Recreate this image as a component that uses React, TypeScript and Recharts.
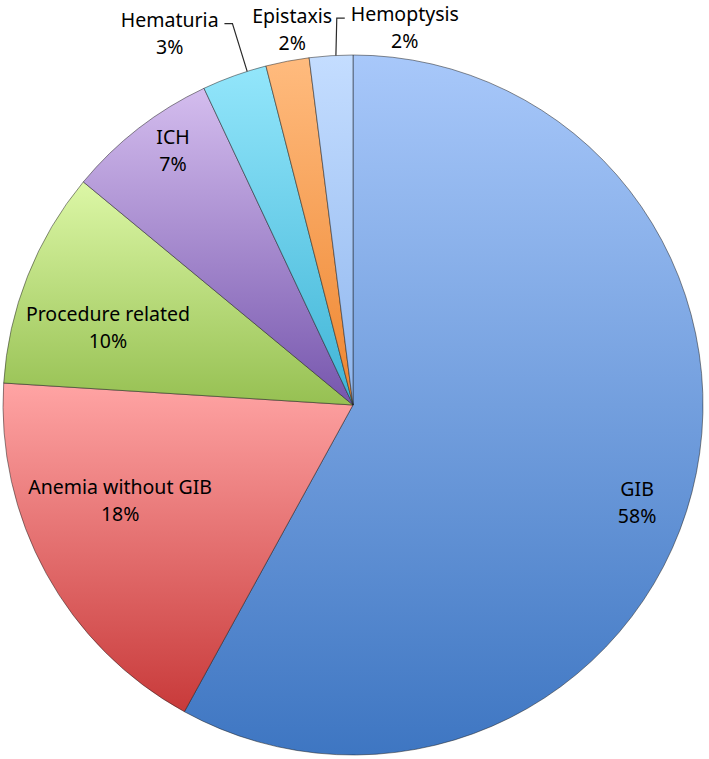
import React from 'react';
import { PieChart, Pie, Cell } from 'recharts';

const CATEGORIES = ['GIB', 'Anemia without GIB', 'Procedure related', 'ICH', 'Hematuria', 'Epistaxis', 'Hemoptysis'];
const SHARES = [58, 18, 10, 7, 3, 2, 2];

// light (top) and dark (bottom) end of each slice's gradient
const TOP_COLORS = ['#a8c8fa', '#ffa4a4', '#dcf7a6', '#d4bdee', '#93e6fb', '#ffbb7e', '#c4ddff'];
const BOTTOM_COLORS = ['#3e76c2', '#c83a3a', '#96c052', '#7656ad', '#3fb4d6', '#ee8630', '#8fb6ee'];

// where each label sits: fraction of the radius and angular shift from the slice middle
const LABEL_LAYOUT: { ratio: number; shift: number; leader?: 1 | -1; lineShift?: number }[] = [
    { ratio: 0.858, shift: -4.5 },
    { ratio: 0.718, shift: -6.7 },
    { ratio: 0.735, shift: 3.9 },
    { ratio: 0.892, shift: -2.6 },
    { ratio: 1.186, shift: 6.4, leader: 1, lineShift: -2.2 },
    { ratio: 1.087, shift: -1.6 },
    { ratio: 1.09, shift: -11.4, leader: -1, lineShift: -0.8 },
];

const data = CATEGORIES.map((name, i) => ({ name, value: SHARES[i] }));

const RAD = Math.PI / 180;
const FONT = '"Noto Sans", "Open Sans", sans-serif';
const FONT_SIZE = 19.5;

const renderLabel = (props: any) => {
    const { cx, cy, midAngle, outerRadius, index, name, value } = props;
    const lay = LABEL_LAYOUT[index];
    const a = (midAngle + lay.shift) * RAD;
    const r = outerRadius * lay.ratio;
    const x = cx + r * Math.cos(a);
    const y = cy - r * Math.sin(a);

    let leader = null;
    if (lay.leader) {
        const la = (midAngle + (lay.lineShift ?? 0)) * RAD;
        const ex = cx + outerRadius * Math.cos(la);
        const ey = cy - outerRadius * Math.sin(la);
        const half = name.length * 5.3;
        const sx = x + lay.leader * (half + 7);
        const sy = y - 9;
        leader = (
            <path
                d={`M${sx},${sy} H${sx + lay.leader * 8} L${ex},${ey}`}
                stroke="#2a2a2a"
                strokeWidth={1.2}
                fill="none"
            />
        );
    }

    return (
        <g>
            {leader}
            <text x={x} y={y - 13.5} textAnchor="middle" dominantBaseline="central"
                fontFamily={FONT} fontSize={FONT_SIZE} fill="#000">
                {name}
            </text>
            <text x={x} y={y + 13.5} textAnchor="middle" dominantBaseline="central"
                fontFamily={FONT} fontSize={FONT_SIZE} fill="#000">
                {`${value}%`}
            </text>
        </g>
    );
};

const App: React.FC = () => (
    <div style={{ position: 'absolute', left: 0, top: 0, background: '#fff' }}>
        <PieChart width={709} height={759} margin={{ top: 0, right: 0, bottom: 0, left: 0 }}>
            <defs>
                {CATEGORIES.map((c, i) => (
                    <linearGradient key={c} id={`slice${i}`} x1="0" y1="0" x2="0" y2="1">
                        <stop offset="0%" stopColor={TOP_COLORS[i]} />
                        <stop offset="100%" stopColor={BOTTOM_COLORS[i]} />
                    </linearGradient>
                ))}
            </defs>
            <Pie
                data={data}
                dataKey="value"
                nameKey="name"
                cx={353}
                cy={405}
                outerRadius={350}
                startAngle={90}
                endAngle={-270}
                stroke="rgba(30,30,30,0.5)"
                strokeWidth={1}
                label={renderLabel}
                labelLine={false}
                isAnimationActive={false}
            >
                {data.map((d, i) => (
                    <Cell key={d.name} fill={`url(#slice${i})`} />
                ))}
            </Pie>
        </PieChart>
    </div>
);

export default App;
